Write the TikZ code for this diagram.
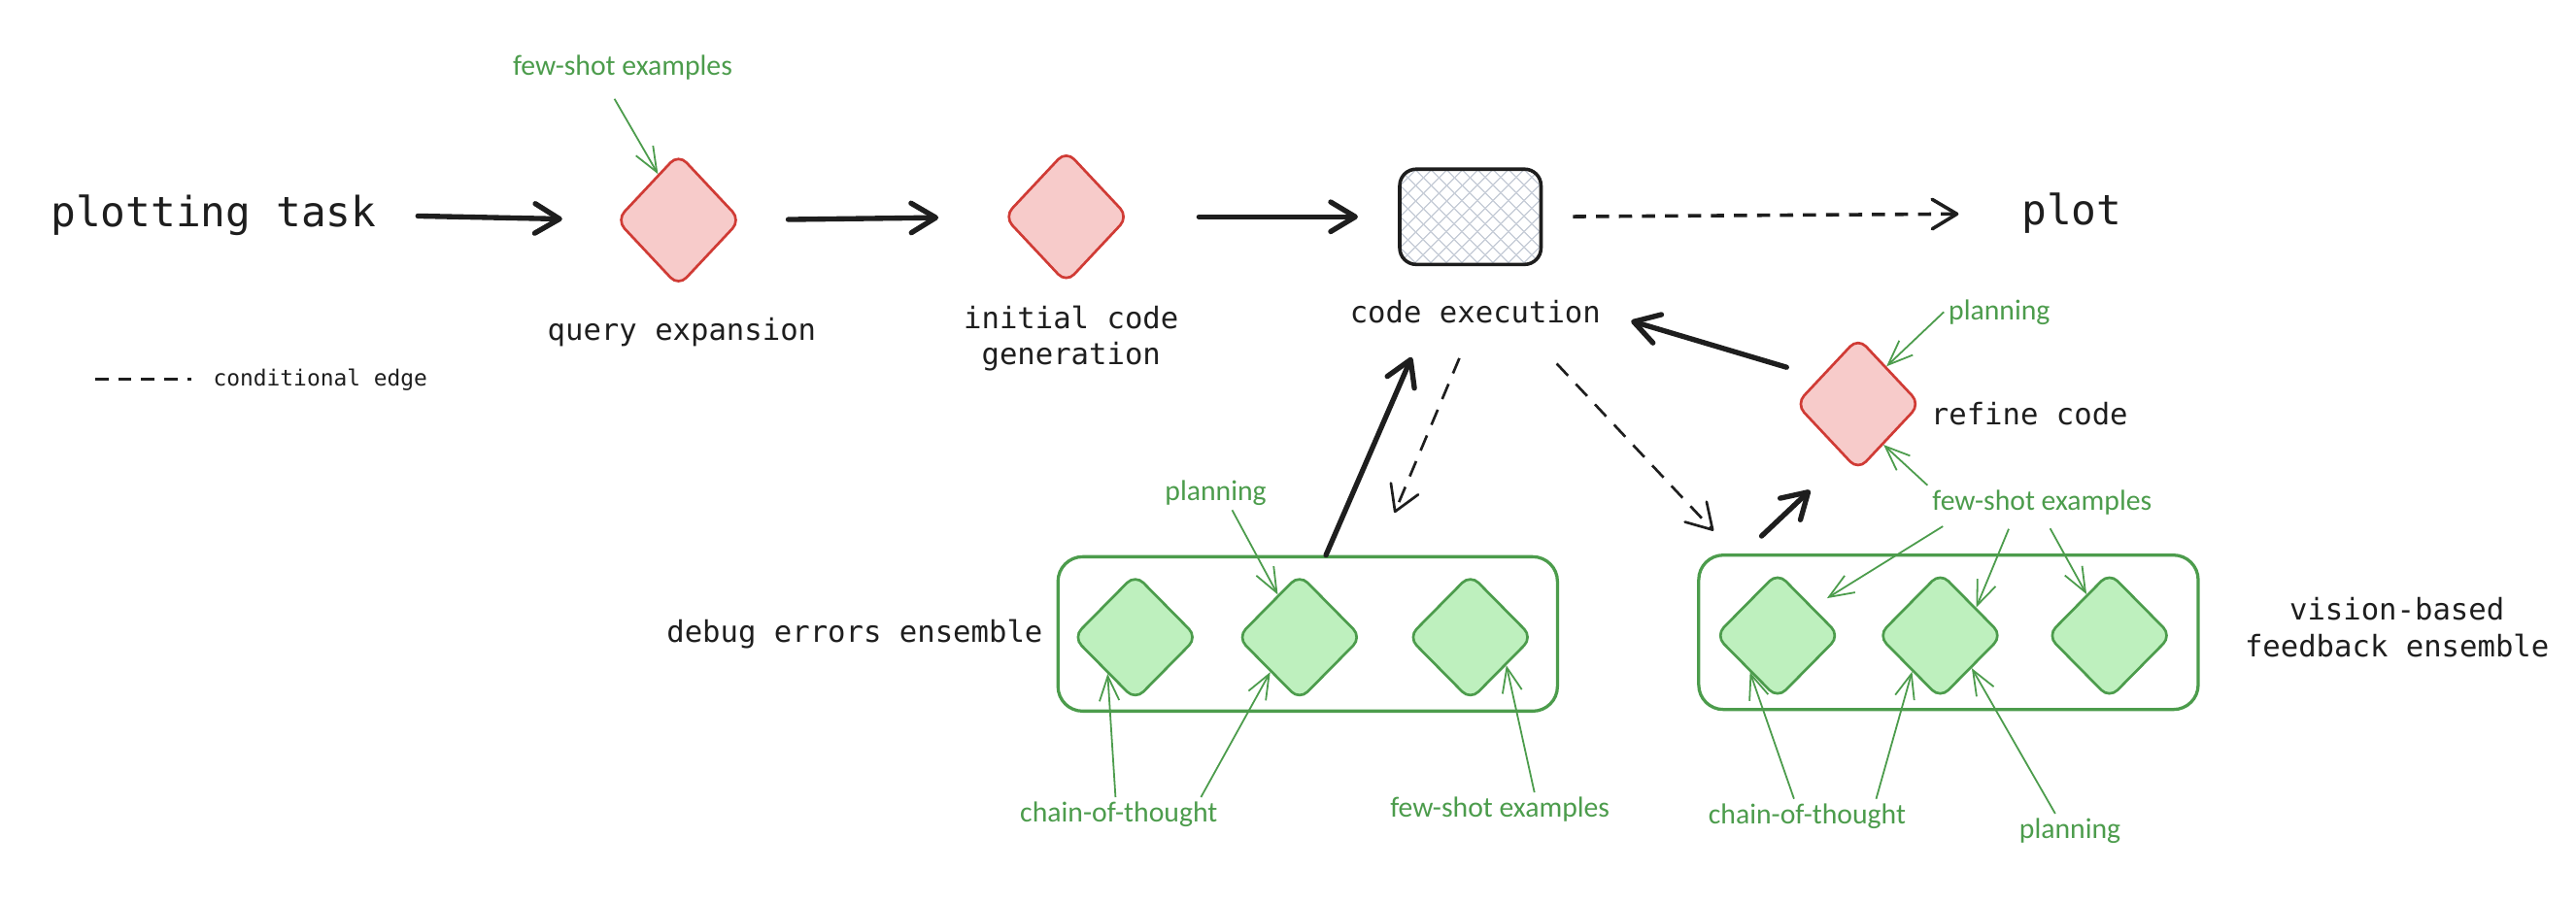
\documentclass[tikz,border=0pt]{standalone}
\usepackage{fontspec}
\setmonofont{DejaVu Sans Mono}
\newfontfamily\handfont{Carlito}
\usetikzlibrary{shapes.geometric,arrows.meta,patterns.meta}

\definecolor{ink}{HTML}{1E1E1E}
\definecolor{redline}{HTML}{D03B35}
\definecolor{redfill}{HTML}{F7CBCA}
\definecolor{greenline}{HTML}{4C9C4C}
\definecolor{greenfill}{HTML}{BEF0BE}
\definecolor{hatch}{HTML}{C9CFD9}

\tikzset{
  llm/.style={diamond, draw=redline, fill=redfill, line width=0.9pt, rounded corners=4pt, inner sep=0pt, minimum width=15.2mm, minimum height=16.2mm},
  agent/.style={diamond, draw=greenline, fill=greenfill, line width=0.9pt, rounded corners=4pt, inner sep=0pt, minimum width=15.2mm, minimum height=15.4mm},
  ensemble/.style={draw=greenline, line width=1.1pt, rounded corners=3mm, minimum width=60.8mm, minimum height=18.8mm},
  runner/.style={draw=ink, line width=1.2pt, rounded corners=2mm, minimum width=17.2mm, minimum height=11.6mm,
    pattern={Lines[angle=45,distance=4pt,line width=0.5pt]}, pattern color=hatch,
    preaction={pattern={Lines[angle=-45,distance=4pt,line width=0.5pt]}, pattern color=hatch}},
  lbl/.style={inner sep=0pt, text=ink, font=\ttfamily\fontsize{10.3}{12.5}\selectfont, align=center},
  note/.style={inner sep=1.5pt, text=greenline, font=\handfont\fontsize{10}{12}\selectfont},
  flow/.style={draw=ink, line width=1.8pt, line cap=round, -{Straight Barb[length=3mm,width=3.6mm,round]}},
  cond/.style={draw=ink, line width=0.9pt, dash pattern=on 2mm off 1.4mm, -{Straight Barb[length=3mm,width=3.6mm,round]}},
  hint/.style={draw=greenline, line width=0.6pt, -{Straight Barb[length=3mm,width=2.4mm]}},
}

\begin{document}
\begin{tikzpicture}[x=0.2mm, y=-0.2mm]
\useasboundingbox (0,0) rectangle (1568,550);

% main pipeline
\node[lbl, font=\ttfamily\fontsize{14.4}{17}\selectfont] (task) at (130,131) {plotting task};
\node[llm] (qe) at (413,134) {};
\node[lbl] (qelbl) at (415,202) {query expansion};
\node[llm] (icg) at (649,132) {};
\node[lbl] (icglbl) at (652,206) {initial code\\generation};
\node[runner] (exec) at (895,132) {};
\node[lbl] (execlbl) at (898,190) {code execution};
\node[lbl, font=\ttfamily\fontsize{14.4}{17}\selectfont] (plot) at (1261,130) {plot};

% legend
\coordinate (lg) at (58,231);
\node[lbl, font=\ttfamily\fontsize{7.7}{9}\selectfont] (lglbl) at (195,231) {conditional edge};
\draw[ink, line width=1.2pt, dash pattern=on 1.6mm off 1.2mm, shorten >=2.6mm] (lg) -- (lglbl.west);

% refine step
\node[llm] (refine) at (1131,246) {};
\node[lbl, anchor=west] (reflbl) at (1175,252) {refine code};

% ensembles
\node[ensemble] (dbg) at (796,386) {};
\node[ensemble] (vis) at (1186,385) {};
\foreach \x/\n in {691/d1,791/d2,895/d3} \node[agent] (\n) at (\x,388) {};
\foreach \x/\n in {1082/v1,1181/v2,1284/v3} \node[agent] (\n) at (\x,387) {};
\node[lbl, anchor=east] (dbglbl) at (635,386) {debug errors ensemble};
\node[lbl] (vislbl) at (1459,382) {vision-based\\feedback ensemble};

% prompting hints
\node[note] (fsq) at (379,41) {few-shot examples};
\node[note] (planr) at (1217,190) {planning};
\node[note] (fsr) at (1243,306) {few-shot examples};
\node[note] (pland) at (740,300) {planning};
\node[note] (cotd) at (681,496) {chain-of-thought};
\node[note] (fsd) at (913,493) {few-shot examples};
\node[note] (cotv) at (1100,497) {chain-of-thought};
\node[note] (planv) at (1260,506) {planning};

% edges
\draw[flow, shorten <=5mm, shorten >=6.4mm] (task.east) -- (qe.west);
\draw[flow, shorten <=5.6mm, shorten >=7.8mm] (qe.east) -- (icg.west);
\draw[flow, shorten <=8.4mm, shorten >=5mm] (icg.east) -- (exec.west);
\draw[cond, line width=1.2pt, dash pattern=on 1.6mm off 1.2mm, shorten <=3.8mm, shorten >=7.6mm] (exec.east) -- (plot.west);
\draw[flow, shorten >=4.4mm] (dbg.77) -- ([xshift=-6mm]execlbl.south);
\draw[cond, shorten <=4.5mm, shorten >=5.6mm] ([xshift=-0.2mm]execlbl.south) -- ([xshift=8.4mm]dbg.north);
\draw[cond, shorten <=6.6mm, shorten >=3.8mm] ([xshift=5.4mm]execlbl.south) -- ([xshift=-26mm]vis.north);
\draw[flow, shorten <=3.1mm, shorten >=5.8mm] ([xshift=-25mm]vis.north) -- (refine.256);
\draw[flow, shorten <=4.2mm, shorten >=3.8mm] (refine.145) -- (execlbl.east);

% hint arrows
\draw[hint, shorten <=2mm] ([xshift=-2mm]fsq.south) -- (qe.114);
\draw[hint] (planr.west) -- (refine.53);
\draw[hint] (fsr.north west) -- (refine.-58);
\draw[hint, shorten <=1.5mm, shorten >=2mm] ([xshift=-10.8mm]fsr.south) -- (v1.39);
\draw[hint, shorten <=1.2mm] ([xshift=-3.6mm]fsr.south) -- (v2.38);
\draw[hint, shorten <=1.2mm] ([xshift=0.4mm]fsr.south) -- (v3.119);
\draw[hint] ([xshift=2mm]pland.south) -- (d2.117);
\draw[hint] ([xshift=-0.4mm]cotd.north) -- (d1.233);
\draw[hint] ([xshift=10mm]cotd.north) -- (d2.230);
\draw[hint] ([xshift=4.2mm]fsd.north) -- (d3.-38);
\draw[hint] ([xshift=-1.6mm]cotv.north) -- (v1.233);
\draw[hint] ([xshift=8.4mm]cotv.north) -- (v2.232);
\draw[hint] ([xshift=-1.8mm]planv.north) -- (v2.-46);
\end{tikzpicture}
\end{document}
